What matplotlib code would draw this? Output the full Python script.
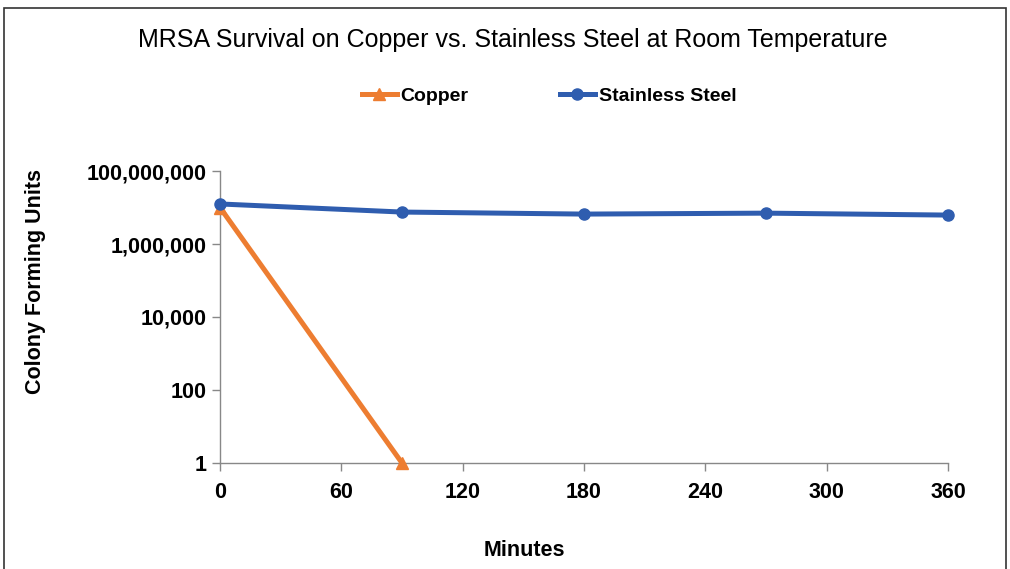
import matplotlib
matplotlib.use("Agg")
import matplotlib.pyplot as plt
from matplotlib.ticker import FixedLocator, FuncFormatter
from matplotlib.patches import Rectangle

plt.rcParams['font.family'] = ['Liberation Sans', 'DejaVu Sans']

minutes = [0, 90, 180, 270, 360]
steel_cfu = [1.25e7, 7.5e6, 6.6e6, 7.0e6, 6.2e6]
copper_minutes = [0, 90]
copper_cfu = [1.0e7, 1]
y_ticks = [1, 100, 10000, 1000000, 100000000]
x_ticks = [0, 60, 120, 180, 240, 300, 360]

fig = plt.figure(figsize=(10.1, 5.69), dpi=100)
ax = fig.add_axes([220/1010, 1-463/569, (948-220)/1010, (463-171)/569])

# border round the figure
fig.patches.append(Rectangle((4/1010, -0.05), (1006-4)/1010, 1.05 - 8/569,
                             transform=fig.transFigure, fill=False,
                             edgecolor='#333333', linewidth=1.2))

ax.plot(copper_minutes, copper_cfu, color='#ED7D31', linewidth=3.6,
        marker='^', markersize=8, label='Copper', clip_on=False, zorder=3)
ax.plot(minutes, steel_cfu, color='#2F5DAF', linewidth=3.6,
        marker='o', markersize=8, label='Stainless Steel', clip_on=False, zorder=4)

ax.set_yscale('log')
ax.set_ylim(1, 1e8)
ax.set_xlim(0, 360)
ax.yaxis.set_major_locator(FixedLocator(y_ticks))
ax.yaxis.set_minor_locator(FixedLocator([]))
ax.yaxis.set_major_formatter(FuncFormatter(lambda v, p: f"{int(round(v)):,}"))
ax.set_xticks(x_ticks)

for s in ['top', 'right']:
    ax.spines[s].set_visible(False)
for s in ['left', 'bottom']:
    ax.spines[s].set_color('#888888')
    ax.spines[s].set_linewidth(1)
ax.tick_params(axis='both', colors='#888888', length=6, width=1, labelcolor='black',
               labelsize=15.5)
ax.tick_params(axis='x', pad=8)
for lab in ax.get_xticklabels() + ax.get_yticklabels():
    lab.set_fontweight('bold')

fig.text(36/1010, 1-281/569, 'Colony Forming Units', rotation=90, ha='center', va='center',
         fontsize=15.5, fontweight='bold')
fig.text(524/1010, 1-551/569, 'Minutes', ha='center', va='center',
         fontsize=15.5, fontweight='bold')

fig.text(513/1010, 1-40/569, 'MRSA Survival on Copper vs. Stainless Steel at Room Temperature',
         ha='center', va='center', fontsize=18)

fig.legend(loc='center', bbox_to_anchor=(549/1010, 1-96/569), ncol=2, frameon=False,
           prop={'weight': 'bold', 'size': 14}, handlelength=1.8, handletextpad=0.2,
           columnspacing=4.7)

fig.savefig('out.png', dpi=100)
